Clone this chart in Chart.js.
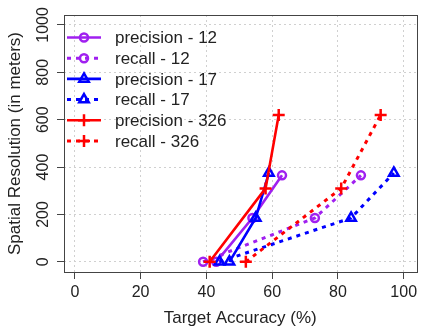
<!DOCTYPE html>
<html>
<head>
<meta charset="utf-8">
<script src="https://cdn.jsdelivr.net/npm/chart.js@4/dist/chart.umd.min.js"></script>
<style>
  html, body { margin: 0; padding: 0; background: #fff; }
  #wrap { width: 425px; height: 329px; }
</style>
</head>
<body>
<div id="wrap"><canvas id="grafic" width="425" height="329"></canvas></div>
<script>
// valors llegits de la figura (x = precisió %, y = resolució en metres)
const precisio12X = [43, 54, 63];
const precisio12Y = [0, 185, 365];
const recall12X = [39, 73, 87];
const recall12Y = [0, 185, 365];
const precisio17X = [47, 55, 59];
const precisio17Y = [0, 185, 375];
const recall17X = [44, 84, 97];
const recall17Y = [0, 185, 375];
const precisio326X = [41, 58, 62];
const precisio326Y = [0, 310, 620];
const recall326X = [52, 81, 93];
const recall326Y = [0, 310, 620];

const ticksX = [0, 20, 40, 60, 80, 100];
const ticksY = [0, 200, 400, 600, 800, 1000];
const nomsSeries = ['precision - 12', 'recall - 12', 'precision - 17', 'recall - 17', 'precision - 326', 'recall - 326'];

const LILA = '#A020F0', BLAU = '#0000FF', VERMELL = '#FF0000';
const FONT = '"Liberation Sans", Arial, sans-serif';

function punts(xs, ys) {
    return xs.map((x, i) => ({ x: x, y: ys[i] }));
}

function serie(i, xs, ys, color, estil, discontinua) {
    return {
        label: nomsSeries[i],
        data: punts(xs, ys),
        showLine: true,
        tension: 0,
        borderColor: color,
        backgroundColor: 'rgba(0,0,0,0)',
        borderWidth: discontinua ? 3 : 2.6,
        borderDash: discontinua ? [4, 5] : [],
        pointStyle: estil,
        pointRadius: estil === 'circle' ? 4 : (estil === 'triangle' ? 5.5 : 6),
        pointBorderWidth: 2.5,
        pointBorderColor: color,
        pointBackgroundColor: 'rgba(0,0,0,0)',
        order: 6 - i
    };
}

const series = [
    serie(0, precisio12X, precisio12Y, LILA, 'circle', false),
    serie(1, recall12X, recall12Y, LILA, 'circle', true),
    serie(2, precisio17X, precisio17Y, BLAU, 'triangle', false),
    serie(3, recall17X, recall17Y, BLAU, 'triangle', true),
    serie(4, precisio326X, precisio326Y, VERMELL, 'cross', false),
    serie(5, recall326X, recall326Y, VERMELL, 'cross', true)
];

// marc complet al voltant de l'àrea del gràfic + etiquetes verticals de l'eix y
const marc = {
    id: 'marc',
    afterDraw(chart) {
        const a = chart.chartArea;
        const ctx = chart.ctx;
        ctx.save();
        ctx.strokeStyle = '#444';
        ctx.lineWidth = 1;
        ctx.strokeRect(Math.round(a.left) + 0.5, Math.round(a.top) + 0.5,
            Math.round(a.right - a.left), Math.round(a.bottom - a.top));
        const escalaY = chart.scales.y;
        ctx.fillStyle = '#222';
        ctx.font = '16px ' + FONT;
        ctx.textAlign = 'center';
        ctx.textBaseline = 'middle';
        ticksY.forEach(v => {
            ctx.save();
            ctx.translate(44, escalaY.getPixelForValue(v));
            ctx.rotate(-Math.PI / 2);
            ctx.fillText(String(v), 0, 0);
            ctx.restore();
        });
        ctx.restore();
    }
};

function dibuixarMarca(ctx, estil, x, y, r) {
    ctx.beginPath();
    if (estil === 'circle') {
        ctx.arc(x, y, r, 0, Math.PI * 2);
    } else if (estil === 'triangle') {
        const s = r * Math.sqrt(3);
        const h = s * Math.sqrt(3) / 2;
        ctx.moveTo(x, y - 2 * h / 3);
        ctx.lineTo(x + s / 2, y + h / 3);
        ctx.lineTo(x - s / 2, y + h / 3);
        ctx.closePath();
    } else {
        ctx.moveTo(x - r, y); ctx.lineTo(x + r, y);
        ctx.moveTo(x, y - r); ctx.lineTo(x, y + r);
    }
    ctx.stroke();
}

// llegenda dins del gràfic, a dalt a l'esquerra
const llegendaDins = {
    id: 'llegendaDins',
    afterDraw(chart) {
        const ctx = chart.ctx;
        ctx.save();
        chart.data.datasets.forEach((ds, i) => {
            const y = 37.5 + i * 20.7;
            ctx.strokeStyle = ds.borderColor;
            ctx.lineWidth = ds.borderWidth;
            ctx.setLineDash(ds.borderDash);
            ctx.beginPath();
            ctx.moveTo(67, y);
            ctx.lineTo(101, y);
            ctx.stroke();
            ctx.setLineDash([]);
            ctx.lineWidth = ds.pointBorderWidth;
            dibuixarMarca(ctx, ds.pointStyle, 84, y, ds.pointRadius);
            ctx.fillStyle = '#222';
            ctx.font = '17px ' + FONT;
            ctx.textBaseline = 'middle';
            ctx.textAlign = 'left';
            ctx.fillText(ds.label, 115, y + 1);
        });
        ctx.restore();
    }
};

new Chart(document.getElementById('grafic'), {
    type: 'scatter',
    data: { datasets: series },
    options: {
        responsive: false,
        devicePixelRatio: 1,
        animation: false,
        layout: { padding: { top: 15, right: 2, left: 0, bottom: 0 } },
        plugins: {
            legend: { display: false },
            tooltip: { enabled: false }
        },
        scales: {
            x: {
                type: 'linear',
                min: -3.3,
                max: 103.9,
                afterBuildTicks: s => { s.ticks = ticksX.map(v => ({ value: v })); },
                afterFit: s => { s.height = 57; },
                grid: {
                    color: '#D0D0D0',
                    lineWidth: 1,
                    drawTicks: true,
                    tickLength: 7,
                    tickColor: '#444',
                    tickWidth: 1
                },
                border: { display: false, dash: [2, 3] },
                ticks: {
                    autoSkip: false,
                    maxRotation: 0,
                    padding: 4,
                    color: '#222',
                    font: { family: FONT, size: 16 },
                    callback: v => String(v)
                },
                title: {
                    display: true,
                    text: 'Target Accuracy (%)',
                    color: '#222',
                    font: { family: FONT, size: 17 },
                    padding: { top: 0, bottom: 0 }
                }
            },
            y: {
                type: 'linear',
                min: -43,
                max: 1042,
                afterBuildTicks: s => { s.ticks = ticksY.map(v => ({ value: v })); },
                afterFit: s => { s.width = 64; },
                grid: {
                    color: '#D0D0D0',
                    lineWidth: 1,
                    drawTicks: true,
                    tickLength: 7,
                    tickColor: '#444',
                    tickWidth: 1
                },
                border: { display: false, dash: [2, 3] },
                ticks: {
                    display: false,
                    autoSkip: false
                },
                title: {
                    display: true,
                    text: 'Spatial Resolution (in meters)',
                    color: '#222',
                    font: { family: FONT, size: 17 },
                    padding: { top: 5, bottom: 0 }
                }
            }
        }
    },
    plugins: [marc, llegendaDins]
});
</script>
</body>
</html>
